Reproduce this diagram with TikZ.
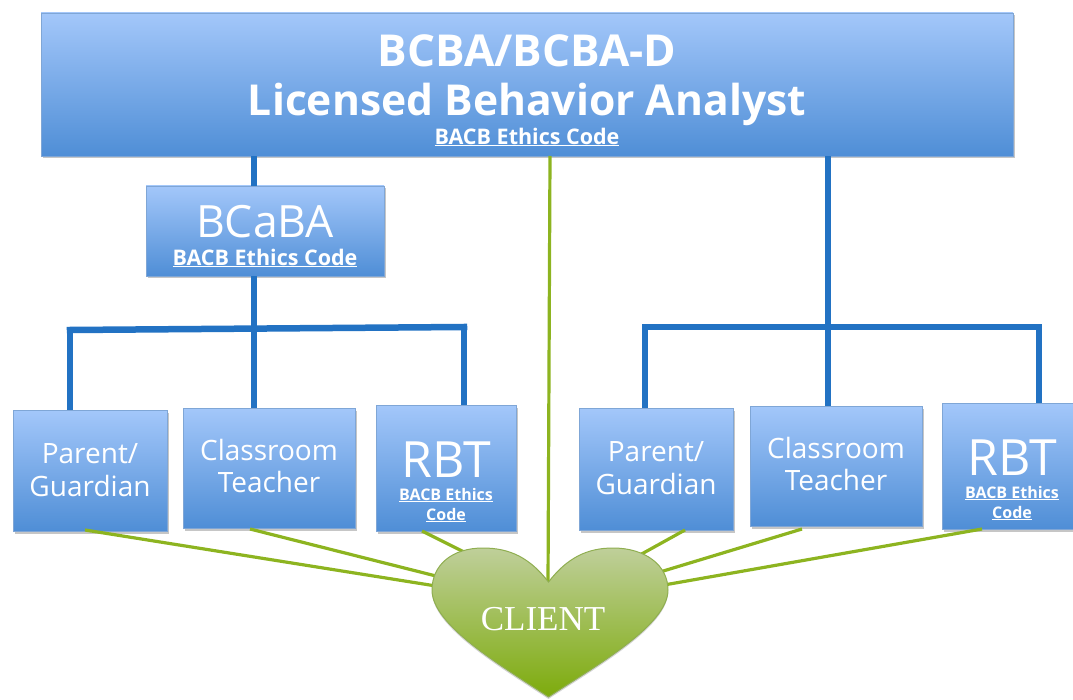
\documentclass[tikz,border=0pt]{standalone}
\usepackage{fontspec}
\setmainfont{Open Sans}
\newfontfamily\clientfont{Liberation Serif}
\usetikzlibrary{shadows}
\definecolor{boxtop}{HTML}{A3C7FA}
\definecolor{boxbot}{HTML}{4F8ED6}
\definecolor{boxrim}{HTML}{7FA6D6}
\definecolor{linkblue}{HTML}{2272C3}
\definecolor{linkgreen}{HTML}{8DB420}
\definecolor{hearttop}{HTML}{BFCF9A}
\definecolor{heartbot}{HTML}{7DAB0C}
\definecolor{heartrim}{HTML}{8FAE50}
\newcommand{\codelink}[1]{{\bfseries\underline{#1}}}
\begin{document}
\begin{tikzpicture}
  [x=1pt,y=-1pt,
   boxnode/.style={rectangle,draw=boxrim,line width=.8pt,top color=boxtop,bottom color=boxbot,
     drop shadow={opacity=.45,shadow xshift=1.5pt,shadow yshift=-2.5pt}},
   boxtext/.style={text=white,align=center,inner sep=0pt},
   rbttext/.style={boxtext,font=\fontsize{50}{52}\selectfont,text height=36pt,text depth=0pt},
   bluelink/.style={draw=linkblue,line width=6.5pt},
   greenlink/.style={draw=linkgreen,line width=3.2pt}]
  \useasboundingbox (0,0) rectangle (1073,700);

  \node[boxnode,minimum width=972pt,minimum height=143pt] (lead) at (527,84.5) {};
  \node[boxtext,font=\bfseries\fontsize{44}{50}\selectfont] (leadtxt) at (527,51) {BCBA/BCBA-D};
  \node[boxtext,font=\bfseries\fontsize{42.6}{50}\selectfont] (leadname) at (527,104) {Licensed Behavior Analyst};
  \node[boxtext,font=\fontsize{21.5}{24}\selectfont] (leadcode) at (527,137) {\codelink{BACB Ethics Code}};

  \node[boxnode,minimum width=238pt,minimum height=90pt] (bcaba) at (265,231) {};
  \node[boxtext,font=\fontsize{44.5}{46}\selectfont] (bcabatxt) at (265,222) {BCaBA};
  \node[boxtext,font=\fontsize{21.5}{24}\selectfont] (bcabacode) at (265,258) {\codelink{BACB Ethics Code}};

  \node[boxnode,minimum width=154pt,minimum height=121pt] (parentL) at (90,470.5) {};
  \node[boxtext,font=\fontsize{28}{33}\selectfont] (parentLtxt) at (90,470) {Parent/\\Guardian};
  \node[boxnode,minimum width=172pt,minimum height=120pt] (teacherL) at (269,468) {};
  \node[boxtext,font=\fontsize{28}{32}\selectfont] (teacherLtxt) at (269,466) {Classroom\\Teacher};
  \node[boxnode,minimum width=140pt,minimum height=126pt] (rbtL) at (446,468) {};
  \node[rbttext] (rbtLtxt) at (446,459.5) {RBT};
  \node[boxtext,font=\fontsize{16}{20}\selectfont] (rbtLcode) at (446,505) {\codelink{BACB Ethics}\\\codelink{Code}};

  \node[boxnode,minimum width=154pt,minimum height=122pt] (parentR) at (656,469) {};
  \node[boxtext,font=\fontsize{28}{33}\selectfont] (parentRtxt) at (656,468) {Parent/\\Guardian};
  \node[boxnode,minimum width=172pt,minimum height=120pt] (teacherR) at (836,466) {};
  \node[boxtext,font=\fontsize{28}{32}\selectfont] (teacherRtxt) at (836,464) {Classroom\\Teacher};
  \node[boxnode,minimum width=140pt,minimum height=126pt] (rbtR) at (1012,466) {};
  \node[rbttext] (rbtRtxt) at (1012,457.5) {RBT};
  \node[boxtext,font=\fontsize{16}{20}\selectfont] (rbtRcode) at (1012,503) {\codelink{BACB Ethics}\\\codelink{Code}};

  % branch points of the two trees
  \coordinate (forkL) at (254,328);
  \coordinate (endLa) at (70,330);
  \coordinate (endLb) at (464,327);
  \coordinate (forkR) at (828,327);
  \coordinate (endRa) at (645,327);
  \coordinate (endRb) at (1039,327);
  \coordinate (cornerLa) at (parentL.north -| endLa);
  \coordinate (cornerLb) at (rbtL.north -| endLb);
  \coordinate (cornerLc) at (teacherL.north -| forkL);
  \coordinate (cornerRa) at (parentR.north -| endRa);
  \coordinate (cornerRb) at (rbtR.north -| endRb);
  \coordinate (cornerRc) at (teacherR.north -| forkR);
  \coordinate (leadL) at (lead.south -| forkL);
  \coordinate (leadR) at (lead.south -| forkR);
  \coordinate (topB) at (bcaba.north -| forkL);
  \coordinate (botB) at (bcaba.south -| forkL);

  \foreach \from/\to in {leadL/topB,botB/cornerLc,leadR/cornerRc,endLa/cornerLa,endLb/cornerLb,endRa/cornerRa,endRb/cornerRb}
    \draw[bluelink] (\from) -- (\to);
  \foreach \from/\to in {endLa/endLb,endRa/endRb}
    \draw[bluelink,line cap=rect] (\from) -- (\to);

  % ends of the green lines, box side and heart side
  \coordinate (gL1) at (85,530);
  \coordinate (gL2) at (250,529);
  \coordinate (gL3) at (422,531);
  \coordinate (gR1) at (685,530);
  \coordinate (gR2) at (802,529);
  \coordinate (gR3) at (982,529);
  \coordinate (gC) at (550,156);
  \coordinate (h1) at (436,586);
  \coordinate (h2) at (436,576);
  \coordinate (h3) at (468,554);
  \coordinate (h4) at (638,556);
  \coordinate (h5) at (660,572);
  \coordinate (h6) at (664,585);
  \coordinate (notch) at (548,584);

  \foreach \from/\to in {gL1/h1,gL2/h2,gL3/h3,gR1/h4,gR2/h5,gR3/h6,gC/notch}
    \draw[greenlink] (\from) -- (\to);

  \draw[draw=heartrim,line width=1pt,top color=hearttop,bottom color=heartbot,
        drop shadow={opacity=.35,shadow xshift=0pt,shadow yshift=-2pt}]
    (548.5,582) .. controls (530,558) and (510,548) .. (483,548)
    .. controls (452,548) and (432,565) .. (432,590)
    .. controls (432,625) and (500,665) .. (548.5,697)
    .. controls (597,665) and (668,625) .. (668,590)
    .. controls (668,565) and (645,548) .. (613,548)
    .. controls (587,548) and (567,558) .. (548.5,582) -- cycle;
  \node[boxtext,font=\clientfont\fontsize{35}{37}\selectfont] (client) at (543,619) {CLIENT};
\end{tikzpicture}
\end{document}
